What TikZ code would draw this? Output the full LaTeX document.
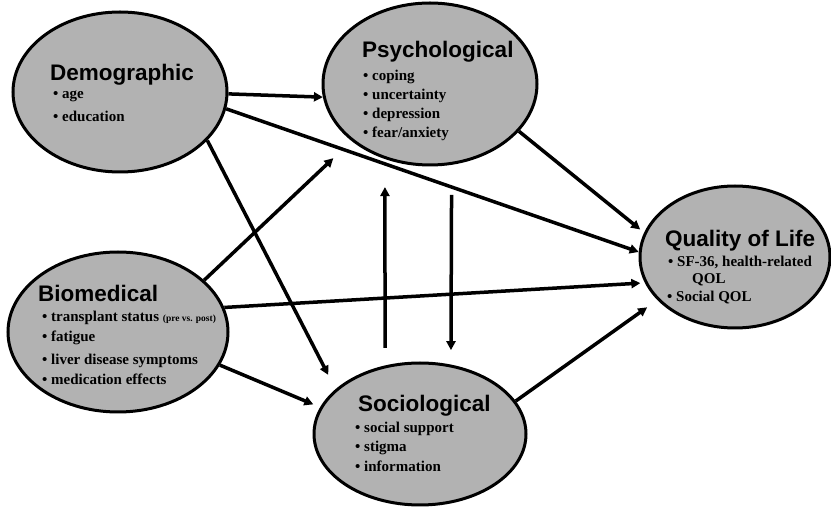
\documentclass[tikz,border=0pt]{standalone}
\usepackage{fontspec}
\setmainfont{Liberation Serif}
\setsansfont{Liberation Sans}
\usetikzlibrary{arrows.meta,shapes.geometric}
\definecolor{blobgray}{RGB}{178,178,178}
\begin{document}
\begin{tikzpicture}[x=1pt,y=-1pt,
  blob/.style={ellipse,draw=black,line width=3pt,fill=blobgray,inner sep=0pt},
  head/.style={anchor=base west,inner sep=0pt,font=\sffamily\bfseries\fontsize{22.5}{25}\selectfont},
  item/.style={anchor=base west,inner sep=0pt,font=\bfseries\fontsize{15}{18}\selectfont},
  arr/.style={line width=3.5pt,-{Triangle[length=9pt,width=9pt]}}]
\useasboundingbox[fill=white] (0,0) rectangle (831,510);

% ellipses
\node[blob,minimum width=214pt,minimum height=160pt] (dem) at (120,92) {};
\node[blob,minimum width=214pt,minimum height=162pt] (psy) at (430,84) {};
\node[blob,minimum width=190pt,minimum height=142pt] (qol) at (735,257) {};
\node[blob,minimum width=220pt,minimum height=160pt] (bio) at (118,332) {};
\node[blob,minimum width=212pt,minimum height=142pt] (soc) at (420,434) {};

% texts
\node[head] (demh) at (50,81) {Demographic};
\node[item] (dem1) at (53,99) {• age};
\node[item] (dem2) at (53,122) {• education};

\node[head] (psyh) at (362,58) {Psychological};
\node[item] (psy1) at (363,81) {• coping};
\node[item] (psy2) at (363,100) {• uncertainty};
\node[item] (psy3) at (363,119) {• depression};
\node[item] (psy4) at (363,138) {• fear/anxiety};

\node[head] (qolh) at (665,247) {Quality of Life};
\node[item] (qol1) at (668,267) {• SF-36, health-related};
\node[item] (qol2) at (692,284) {QOL};
\node[item] (qol3) at (667,302) {• Social QOL};

\node[head] (bioh) at (38,302) {Biomedical};
\node[item] (bio1) at (42,322) {• transplant status {\fontsize{9.5}{11}\selectfont (pre vs. post)}};
\node[item] (bio2) at (42,342) {• fatigue};
\node[item] (bio3) at (42,365) {• liver disease symptoms};
\node[item] (bio4) at (42,385) {• medication effects};

\node[head] (soch) at (358,412) {Sociological};
\node[item] (soc1) at (355,433) {• social support};
\node[item] (soc2) at (355,452) {• stigma};
\node[item] (soc3) at (355,472) {• information};

% connectors
\draw[arr] (dem.-1.6) -- (psy.-173.1);
\draw[arr] (dem.-9.7) -- (qol.177.6);
\draw[arr,shorten >=16pt] (dem.-29.6) -- (soc.152.6);
\draw[arr,shorten >=25pt] (bio.31.8) -- (psy.-144.25);
\draw[arr,shorten >=4.5pt] (bio.13.5) -- (qol.-164.5);
\draw[arr,shorten >=7.3pt] (bio.-18.4) -- (soc.165.5);
\draw[arr,shorten <=17.5pt,shorten >=28pt] (soc.117.6) -- (psy.-121.5);
\draw[arr,shorten <=30pt,shorten >=14.4pt] (psy.-75.9) -- (soc.66.2);
\draw[arr,shorten >=5pt] (psy.-28.6) -- (qol.165.7);
\draw[arr,shorten >=12.5pt] (soc.19.6) -- (qol.-151.2);
\end{tikzpicture}
\end{document}
